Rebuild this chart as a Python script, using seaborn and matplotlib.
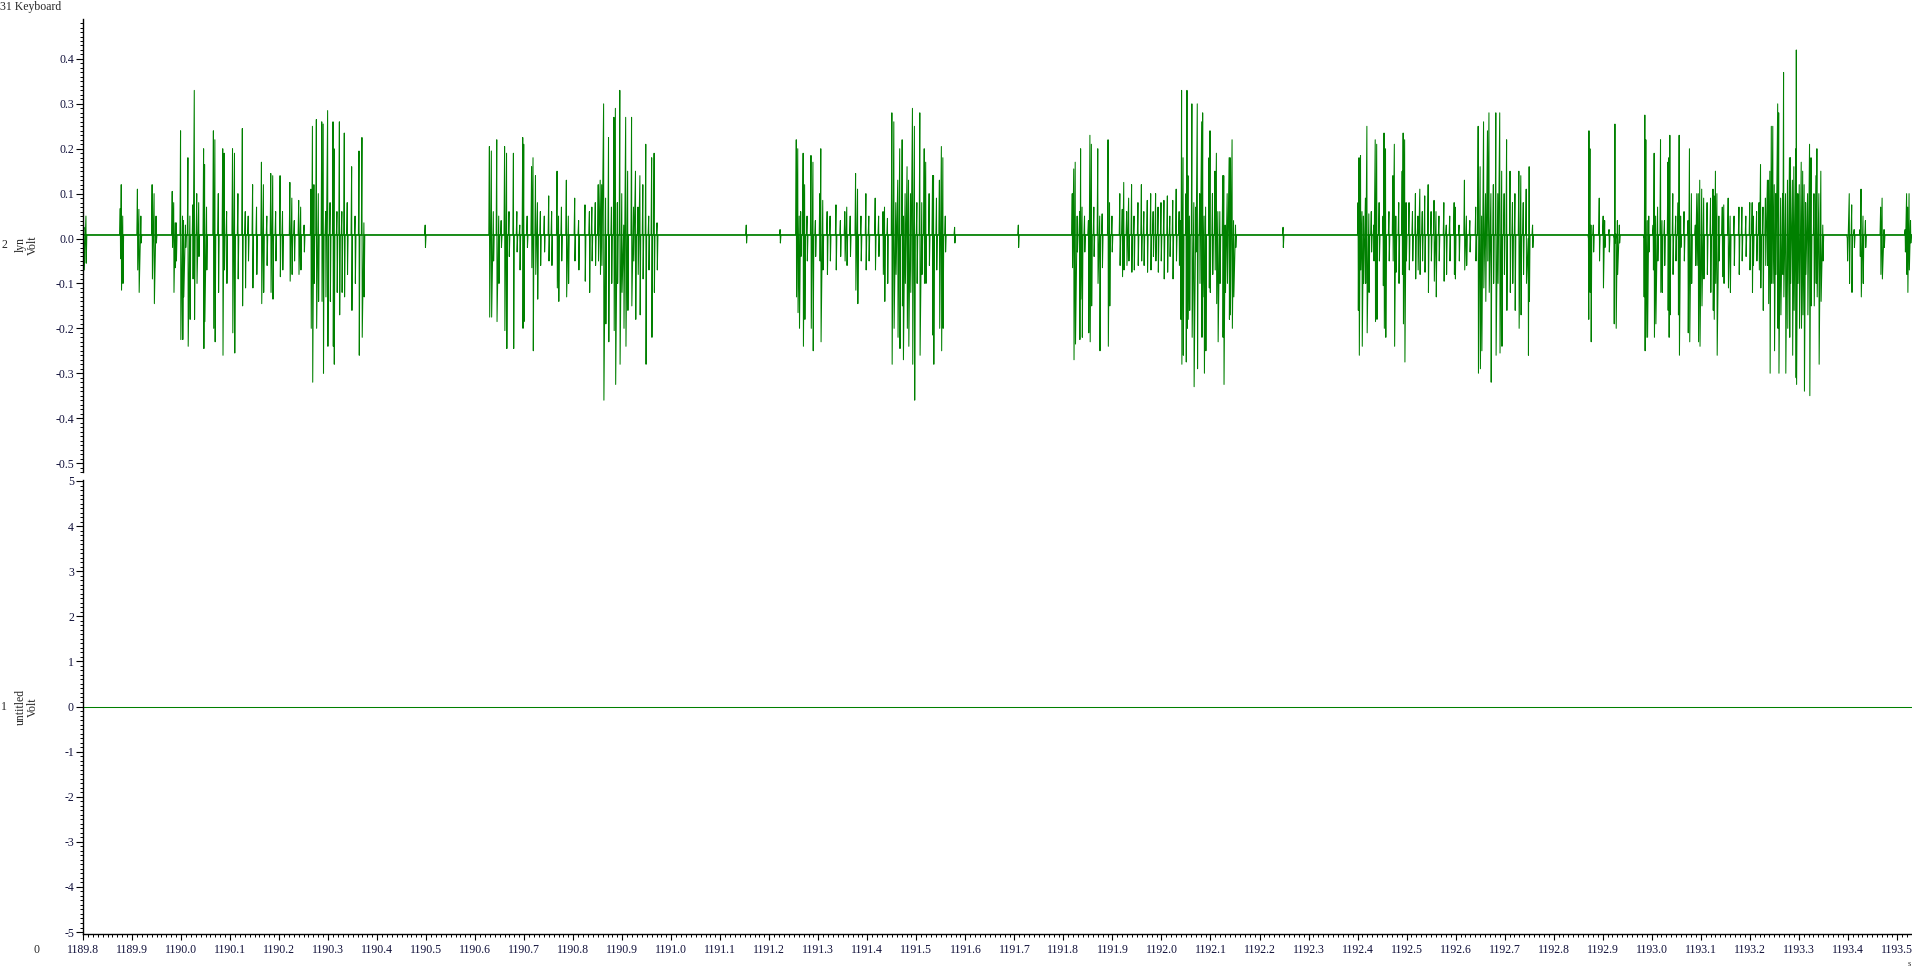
# Spike2-style trace: channel 2 "lyn" (bursts), channel 1 "untitled" (flat)
import numpy as np
import pandas as pd
import seaborn as sns
import matplotlib
matplotlib.use("Agg")
import matplotlib.pyplot as plt
from matplotlib.ticker import MultipleLocator

# --- data ----------------------------------------------------------------
# each spike: (time s, peak V, trough V)
burst_1 = [
    (1189.802, 0.025, -0.07), (1189.806, 0.05, -0.055),
    (1189.876, 0.067, -0.045), (1189.878, 0.12, -0.115), (1189.881, 0.05, -0.1),
    (1189.911, 0.11, -0.07), (1189.914, 0.065, -0.12), (1189.918, 0.05, -0.01),
    (1189.941, 0.12, -0.09), (1189.945, 0.1, -0.145), (1189.949, 0.05, -0.01),
    (1189.982, 0.105, -0.02), (1189.985, 0.08, -0.12), (1189.988, 0.035, -0.065),
    (1189.990, 0.035, -0.05), (1189.999, 0.24, -0.225), (1190.003, 0.05, -0.225),
    (1190.005, 0.04, -0.13), (1190.009, 0.03, -0.02), (1190.014, 0.18, -0.24),
    (1190.018, 0.05, -0.18), (1190.024, 0.075, -0.09), (1190.027, 0.33, -0.18),
    (1190.032, 0.1, -0.1), (1190.036, 0.08, -0.04), (1190.046, 0.2, -0.245),
    (1190.048, 0.165, -0.185), (1190.052, 0.07, -0.07), (1190.066, 0.24, -0.2),
    (1190.069, 0.22, -0.23), (1190.076, 0.1, -0.12), (1190.085, 0.2, -0.26),
    (1190.088, 0.19, -0.07), (1190.093, 0.06, -0.1), (1190.105, 0.2, -0.21),
    (1190.109, 0.19, -0.255), (1190.116, 0.1, -0.09), (1190.125, 0.245, -0.15),
    (1190.131, 0.06, -0.11), (1190.137, 0.05, -0.05), (1190.146, 0.12, -0.11),
    (1190.154, 0.07, -0.08), (1190.164, 0.17, -0.145), (1190.168, 0.12, -0.12),
    (1190.175, 0.05, -0.06), (1190.183, 0.145, -0.12), (1190.187, 0.14, -0.135),
    (1190.193, 0.06, -0.05), (1190.202, 0.14, -0.085), (1190.207, 0.06, -0.07),
    (1190.222, 0.125, -0.095), (1190.226, 0.09, -0.08), (1190.231, 0.04, -0.05),
    (1190.240, 0.085, -0.08), (1190.244, 0.07, -0.07), (1190.251, 0.03, -0.03),
    (1190.265, 0.11, -0.2), (1190.268, 0.25, -0.32), (1190.271, 0.12, -0.1),
    (1190.276, 0.265, -0.2), (1190.280, 0.1, -0.14), (1190.287, 0.26, -0.14),
    (1190.290, 0.255, -0.3), (1190.295, 0.06, -0.13), (1190.299, 0.285, -0.24),
    (1190.304, 0.08, -0.14), (1190.310, 0.26, -0.24), (1190.312, 0.2, -0.28),
    (1190.318, 0.06, -0.12), (1190.323, 0.26, -0.17), (1190.328, 0.06, -0.12),
    (1190.333, 0.235, -0.13), (1190.339, 0.08, -0.08), (1190.348, 0.16, -0.16),
    (1190.355, 0.05, -0.1), (1190.363, 0.195, -0.26), (1190.369, 0.225, -0.22),
    (1190.373, 0.035, -0.13), (1190.498, 0.03, -0.02),
]
burst_2 = [
    (1190.629, 0.205, -0.175), (1190.633, 0.195, -0.175), (1190.637, 0.06, -0.05),
    (1190.644, 0.22, -0.185), (1190.648, 0.05, -0.1), (1190.653, 0.04, -0.02),
    (1190.660, 0.205, -0.205), (1190.664, 0.19, -0.245), (1190.669, 0.06, -0.04),
    (1190.678, 0.19, -0.245), (1190.685, 0.06, -0.03), (1190.691, 0.03, -0.07),
    (1190.697, 0.225, -0.2), (1190.699, 0.21, -0.185), (1190.706, 0.05, -0.02),
    (1190.715, 0.16, -0.065), (1190.718, 0.18, -0.25), (1190.723, 0.14, -0.08),
    (1190.727, 0.08, -0.135), (1190.733, 0.06, -0.06), (1190.741, 0.05, -0.03),
    (1190.750, 0.095, -0.05), (1190.756, 0.06, -0.06), (1190.767, 0.15, -0.11),
    (1190.770, 0.05, -0.14), (1190.776, 0.07, -0.05), (1190.786, 0.13, -0.13),
    (1190.790, 0.05, -0.1), (1190.803, 0.09, -0.05), (1190.811, 0.04, -0.07),
    (1190.824, 0.075, -0.095), (1190.833, 0.06, -0.12), (1190.838, 0.07, -0.05),
    (1190.845, 0.08, -0.06), (1190.851, 0.12, -0.05), (1190.855, 0.13, -0.08),
    (1190.858, 0.12, -0.06), (1190.862, 0.3, -0.36), (1190.866, 0.09, -0.19),
    (1190.872, 0.225, -0.23), (1190.878, 0.07, -0.1), (1190.883, 0.27, -0.205),
    (1190.886, 0.29, -0.325), (1190.890, 0.08, -0.1), (1190.895, 0.33, -0.28),
    (1190.899, 0.1, -0.12), (1190.903, 0.03, -0.2), (1190.907, 0.27, -0.24),
    (1190.911, 0.15, -0.16), (1190.919, 0.27, -0.15), (1190.923, 0.07, -0.05),
    (1190.927, 0.15, -0.18), (1190.932, 0.07, -0.08), (1190.936, 0.14, -0.17),
    (1190.942, 0.12, -0.09), (1190.948, 0.21, -0.28), (1190.954, 0.05, -0.07),
    (1190.960, 0.18, -0.22), (1190.965, 0.19, -0.12), (1190.971, 0.035, -0.07),
    (1191.153, 0.03, -0.01), (1191.222, 0.02, -0.01),
]
burst_3 = [
    (1191.255, 0.22, -0.13), (1191.258, 0.2, -0.165), (1191.261, 0.05, -0.2),
    (1191.264, 0.06, -0.04), (1191.269, 0.19, -0.24), (1191.272, 0.12, -0.18),
    (1191.277, 0.05, -0.05), (1191.285, 0.185, -0.2), (1191.289, 0.17, -0.25),
    (1191.294, 0.04, -0.04), (1191.303, 0.1, -0.05), (1191.305, 0.2, -0.23),
    (1191.309, 0.085, -0.07), (1191.318, 0.06, -0.08), (1191.324, 0.05, -0.05),
    (1191.336, 0.075, -0.07), (1191.345, 0.04, -0.04), (1191.354, 0.06, -0.05),
    (1191.358, 0.07, -0.06), (1191.365, 0.05, -0.04), (1191.376, 0.145, -0.115),
    (1191.380, 0.11, -0.145), (1191.387, 0.05, -0.05), (1191.397, 0.1, -0.07),
    (1191.403, 0.05, -0.05), (1191.416, 0.09, -0.07), (1191.423, 0.05, -0.04),
    (1191.432, 0.06, -0.08), (1191.435, 0.07, -0.14), (1191.441, 0.045, -0.1),
    (1191.450, 0.28, -0.28), (1191.454, 0.26, -0.2), (1191.458, 0.08, -0.08),
    (1191.462, 0.13, -0.22), (1191.466, 0.2, -0.245), (1191.471, 0.22, -0.15),
    (1191.473, 0.05, -0.27), (1191.477, 0.1, -0.1), (1191.481, 0.16, -0.2),
    (1191.484, 0.13, -0.24), (1191.488, 0.1, -0.12), (1191.492, 0.29, -0.28),
    (1191.496, 0.25, -0.36), (1191.501, 0.08, -0.1), (1191.507, 0.28, -0.26),
    (1191.511, 0.08, -0.08), (1191.516, 0.2, -0.1), (1191.519, 0.17, -0.1),
    (1191.526, 0.1, -0.06), (1191.533, 0.14, -0.215), (1191.535, 0.14, -0.28),
    (1191.541, 0.09, -0.07), (1191.547, 0.13, -0.2), (1191.551, 0.205, -0.25),
    (1191.554, 0.18, -0.2), (1191.559, 0.05, -0.03),
    (1191.578, 0.025, -0.01), (1191.708, 0.03, -0.02),
]
burst_4 = [
    (1191.818, 0.1, -0.065), (1191.821, 0.155, -0.27), (1191.824, 0.17, -0.235),
    (1191.828, 0.05, -0.03), (1191.833, 0.06, -0.225), (1191.835, 0.2, -0.135),
    (1191.838, 0.07, -0.22), (1191.843, 0.05, -0.03), (1191.851, 0.04, -0.21),
    (1191.854, 0.23, -0.23), (1191.857, 0.21, -0.15), (1191.862, 0.07, -0.04),
    (1191.870, 0.2, -0.1), (1191.874, 0.05, -0.25), (1191.879, 0.055, -0.065),
    (1191.891, 0.22, -0.24), (1191.894, 0.08, -0.15), (1191.899, 0.05, -0.03),
    (1191.915, 0.1, -0.06), (1191.920, 0.065, -0.085), (1191.923, 0.125, -0.07),
    (1191.929, 0.06, -0.06), (1191.933, 0.09, -0.05), (1191.939, 0.12, -0.075),
    (1191.944, 0.05, -0.07), (1191.952, 0.08, -0.06), (1191.959, 0.12, -0.05),
    (1191.964, 0.06, -0.06), (1191.971, 0.085, -0.075), (1191.978, 0.1, -0.07),
    (1191.983, 0.06, -0.04), (1191.988, 0.1, -0.05), (1191.993, 0.07, -0.075),
    (1191.999, 0.08, -0.05), (1192.005, 0.085, -0.09), (1192.012, 0.095, -0.075),
    (1192.017, 0.05, -0.04), (1192.023, 0.085, -0.09), (1192.030, 0.11, -0.05),
    (1192.036, 0.06, -0.06), (1192.039, 0.04, -0.18), (1192.041, 0.33, -0.28),
    (1192.044, 0.18, -0.26), (1192.050, 0.1, -0.275), (1192.052, 0.33, -0.2),
    (1192.054, 0.14, -0.18), (1192.057, 0.05, -0.16), (1192.062, 0.3, -0.22),
    (1192.066, 0.08, -0.33), (1192.070, 0.07, -0.03), (1192.073, 0.3, -0.29),
    (1192.078, 0.1, -0.1), (1192.082, 0.26, -0.22), (1192.084, 0.28, -0.13),
    (1192.087, 0.05, -0.3), (1192.090, 0.07, -0.25), (1192.097, 0.18, -0.11),
    (1192.099, 0.24, -0.12), (1192.104, 0.1, -0.08), (1192.109, 0.15, -0.07),
    (1192.112, 0.19, -0.145), (1192.115, 0.06, -0.23), (1192.119, 0.06, -0.1),
    (1192.125, 0.14, -0.22), (1192.127, 0.14, -0.325), (1192.130, 0.03, -0.12),
    (1192.134, 0.1, -0.1), (1192.138, 0.18, -0.18), (1192.140, 0.18, -0.17),
    (1192.144, 0.22, -0.2), (1192.147, 0.04, -0.13), (1192.151, 0.03, -0.02),
    (1192.248, 0.025, -0.02),
]
burst_5 = [
    (1192.401, 0.08, -0.16), (1192.403, 0.18, -0.26), (1192.406, 0.185, -0.07),
    (1192.409, 0.06, -0.24), (1192.412, 0.05, -0.1), (1192.416, 0.09, -0.1),
    (1192.419, 0.25, -0.21), (1192.423, 0.055, -0.12), (1192.428, 0.06, -0.03),
    (1192.433, 0.03, -0.05), (1192.436, 0.22, -0.185), (1192.439, 0.21, -0.18),
    (1192.444, 0.08, -0.05), (1192.452, 0.05, -0.105), (1192.454, 0.235, -0.2),
    (1192.457, 0.2, -0.22), (1192.464, 0.06, -0.05), (1192.472, 0.14, -0.05),
    (1192.475, 0.21, -0.24), (1192.478, 0.05, -0.075), (1192.484, 0.08, -0.1),
    (1192.491, 0.15, -0.08), (1192.493, 0.235, -0.19), (1192.496, 0.22, -0.275),
    (1192.499, 0.08, -0.05), (1192.505, 0.08, -0.07), (1192.512, 0.06, -0.05),
    (1192.518, 0.1, -0.09), (1192.523, 0.05, -0.07), (1192.527, 0.11, -0.08),
    (1192.532, 0.06, -0.05), (1192.537, 0.095, -0.075), (1192.544, 0.12, -0.12),
    (1192.550, 0.06, -0.05), (1192.556, 0.085, -0.095), (1192.560, 0.06, -0.13),
    (1192.566, 0.05, -0.05), (1192.576, 0.08, -0.095), (1192.581, 0.03, -0.08),
    (1192.588, 0.05, -0.05), (1192.597, 0.08, -0.08), (1192.599, 0.07, -0.09),
    (1192.607, 0.03, -0.05), (1192.618, 0.13, -0.07), (1192.622, 0.05, -0.06),
    (1192.629, 0.04, -0.03), (1192.641, 0.07, -0.05), (1192.646, 0.25, -0.3),
    (1192.650, 0.16, -0.29), (1192.653, 0.05, -0.25), (1192.657, 0.26, -0.11),
    (1192.661, 0.1, -0.14), (1192.665, 0.24, -0.05), (1192.668, 0.28, -0.12),
    (1192.672, 0.1, -0.32), (1192.677, 0.12, -0.1), (1192.682, 0.28, -0.26),
    (1192.686, 0.1, -0.1), (1192.690, 0.28, -0.255), (1192.694, 0.15, -0.24),
    (1192.699, 0.1, -0.08), (1192.704, 0.22, -0.16), (1192.711, 0.15, -0.12),
    (1192.716, 0.08, -0.1), (1192.721, 0.1, -0.16), (1192.729, 0.15, -0.2),
    (1192.733, 0.14, -0.17), (1192.738, 0.08, -0.08), (1192.744, 0.11, -0.1),
    (1192.748, 0.0, -0.26), (1192.750, 0.16, -0.14), (1192.757, 0.03, -0.02),
]
burst_6 = [
    (1192.871, 0.0, -0.18), (1192.872, 0.24, -0.11), (1192.874, 0.2, -0.12),
    (1192.876, 0.03, -0.23), (1192.881, 0.03, -0.03), (1192.893, 0.09, -0.05),
    (1192.901, 0.05, -0.11), (1192.904, 0.04, -0.02), (1192.913, 0.02, -0.03),
    (1192.923, 0.0, -0.19), (1192.925, 0.255, -0.01), (1192.927, 0.01, -0.2),
    (1192.930, 0.04, -0.08), (1192.934, 0.03, -0.01),
    (1192.984, 0.0, -0.13), (1192.986, 0.275, -0.25), (1192.988, 0.22, -0.22),
    (1192.991, 0.04, -0.22), (1192.994, 0.05, -0.03), (1193.003, 0.03, -0.07),
    (1193.005, 0.19, -0.22), (1193.008, 0.05, -0.19), (1193.012, 0.07, -0.05),
    (1193.018, 0.22, -0.12), (1193.021, 0.04, -0.12), (1193.026, 0.04, -0.06),
    (1193.033, 0.17, -0.16), (1193.035, 0.18, -0.22), (1193.037, 0.23, -0.17),
    (1193.043, 0.1, -0.08), (1193.049, 0.05, -0.05), (1193.054, 0.08, -0.17),
    (1193.056, 0.23, -0.26), (1193.059, 0.05, -0.02), (1193.066, 0.06, -0.05),
    (1193.074, 0.04, -0.21), (1193.077, 0.2, -0.23), (1193.081, 0.1, -0.1),
    (1193.089, 0.03, -0.06), (1193.092, 0.1, -0.06), (1193.095, 0.1, -0.23),
    (1193.098, 0.13, -0.24), (1193.102, 0.11, -0.15), (1193.106, 0.09, -0.09),
    (1193.113, 0.08, -0.08), (1193.120, 0.09, -0.12), (1193.125, 0.11, -0.16),
    (1193.127, 0.095, -0.18), (1193.130, 0.15, -0.1), (1193.133, 0.1, -0.26),
    (1193.137, 0.05, -0.05), (1193.144, 0.07, -0.085), (1193.147, 0.075, -0.1),
    (1193.156, 0.09, -0.11), (1193.160, 0.05, -0.12), (1193.168, 0.05, -0.06),
    (1193.178, 0.07, -0.08), (1193.184, 0.07, -0.05), (1193.192, 0.05, -0.04),
    (1193.200, 0.08, -0.07), (1193.205, 0.08, -0.12), (1193.207, 0.05, -0.06),
    (1193.214, 0.06, -0.05), (1193.219, 0.08, -0.07), (1193.222, 0.165, -0.11),
    (1193.227, 0.07, -0.16), (1193.232, 0.09, -0.06), (1193.236, 0.13, -0.06),
    (1193.238, 0.13, -0.145), (1193.241, 0.15, -0.3), (1193.244, 0.25, -0.1),
    (1193.247, 0.25, -0.1), (1193.250, 0.12, -0.25), (1193.253, 0.1, -0.08),
    (1193.257, 0.3, -0.2), (1193.259, 0.28, -0.3), (1193.263, 0.09, -0.17),
    (1193.267, 0.1, -0.08), (1193.269, 0.37, -0.13), (1193.273, 0.1, -0.3),
    (1193.277, 0.13, -0.2), (1193.281, 0.18, -0.22), (1193.283, 0.18, -0.1),
    (1193.287, 0.13, -0.26), (1193.290, 0.16, -0.16), (1193.294, 0.2, -0.31),
    (1193.295, 0.42, -0.325), (1193.298, 0.1, -0.1), (1193.301, 0.12, -0.2),
    (1193.305, 0.17, -0.2), (1193.308, 0.15, -0.17), (1193.311, 0.12, -0.34),
    (1193.314, 0.08, -0.08), (1193.318, 0.1, -0.17), (1193.322, 0.21, -0.35),
    (1193.325, 0.18, -0.15), (1193.331, 0.1, -0.15), (1193.335, 0.14, -0.1),
    (1193.337, 0.2, -0.13), (1193.341, 0.1, -0.28), (1193.345, 0.15, -0.14),
    (1193.349, 0.03, -0.05),
    (1193.399, 0.0, -0.05), (1193.403, 0.1, -0.1), (1193.408, 0.075, -0.12),
    (1193.413, 0.02, -0.02), (1193.425, 0.02, -0.04), (1193.427, 0.11, -0.13),
    (1193.431, 0.05, -0.1), (1193.436, 0.04, -0.02), (1193.467, 0.07, -0.08),
    (1193.470, 0.09, -0.09), (1193.474, 0.02, -0.02), (1193.517, 0.02, -0.03),
    (1193.520, 0.1, -0.08), (1193.522, 0.07, -0.12), (1193.525, 0.1, -0.07),
    (1193.528, 0.04, -0.01),
]
lyn_baseline = 0.008          # resting level of channel 2
untitled_level = [0.0, 0.0]   # channel 1 stays flat

x_range = [1189.8, 1193.531]
x_ticks = [round(1189.8 + 0.1 * i, 1) for i in range(38)]
top_ticks = [0.4, 0.3, 0.2, 0.1, 0.0, -0.1, -0.2, -0.3, -0.4, -0.5]
top_labels = ["0.4", "0.3", "0.2", "0.1", "0.0", "-0.1", "-0.2", "-0.3", "-0.4", "-0.5"]
bot_ticks = [5, 4, 3, 2, 1, 0, -1, -2, -3, -4, -5]
bot_labels = ["5", "4", "3", "2", "1", "0", "-1", "-2", "-3", "-4", "-5"]

GREEN = "#008000"
INK = "#10103a"
W, H = 1912, 969
FS = 8.5


def build_trace(spikes, base):
    """spike list -> one continuous polyline (up then down at each spike)"""
    ts, vs = [x_range[0]], [base]
    prev = x_range[0]
    for t, hi, lo in sorted(spikes):
        if t - prev > 0.004:
            ts += [prev + 0.0012, t - 0.0012]
            vs += [base, base]
        ts += [t, t + 0.0006]
        vs += [hi, lo]
        prev = t + 0.0006
    ts += [prev + 0.0012, x_range[1]]
    vs += [base, base]
    return pd.DataFrame({"t": ts, "v": vs})


sns.set_style("ticks")
plt.rcParams["font.family"] = ["Liberation Serif", "DejaVu Serif"]
plt.rcParams["axes.unicode_minus"] = False

fig = plt.figure(figsize=(W / 100, H / 100), dpi=100)
ax1 = fig.add_axes([83 / W, 1 - 472 / H, 1 - 83 / W, 453 / H])
ax2 = fig.add_axes([83 / W, 1 - 934 / H, 1 - 83 / W, 454 / H])

trace = build_trace(burst_1 + burst_2 + burst_3 + burst_4 + burst_5 + burst_6,
                    lyn_baseline)
# the resting noise band shows as a slightly thicker line
sns.lineplot(x=x_range, y=[lyn_baseline, lyn_baseline], color=GREEN,
             lw=1.2, alpha=0.9, ax=ax1)
sns.lineplot(data=trace, x="t", y="v", sort=False, estimator=None,
             color=GREEN, lw=0.75, ax=ax1)
sns.lineplot(x=x_range, y=untitled_level, color=GREEN, lw=0.75, ax=ax2)

for ax in (ax1, ax2):
    ax.set_xlim(x_range)
    ax.set_xlabel("")
    ax.set_ylabel("")
    for s in ("top", "right"):
        ax.spines[s].set_visible(False)
    ax.spines["left"].set_color("black")
    ax.spines["left"].set_linewidth(1.0)
    ax.tick_params(axis="y", which="major", length=5, width=0.8, pad=1.5,
                   labelsize=FS, labelcolor=INK, color="black")
    ax.tick_params(axis="y", which="minor", length=2.2, width=0.7, color="black")

ax1.set_ylim(-0.52, 0.489)
ax1.set_yticks(top_ticks, top_labels)
ax1.yaxis.set_minor_locator(MultipleLocator(0.01))
ax1.spines["bottom"].set_visible(False)
ax1.tick_params(axis="x", which="both", bottom=False, labelbottom=False)

ax2.set_ylim(-5.044, 5.022)
ax2.set_yticks(bot_ticks, bot_labels)
ax2.yaxis.set_minor_locator(MultipleLocator(0.1))
ax2.spines["bottom"].set_color("black")
ax2.spines["bottom"].set_linewidth(1.0)
ax2.set_xticks(x_ticks, [f"{v:.1f}" for v in x_ticks])
ax2.xaxis.set_minor_locator(MultipleLocator(0.01))
ax2.tick_params(axis="x", which="major", length=4, width=0.8, pad=3,
                labelsize=FS, labelcolor=INK, color="black")
ax2.tick_params(axis="x", which="minor", length=2.2, width=0.7, color="black")

# channel captions
fig.text(0 / W, 1 - 7 / H, "31 Keyboard", fontsize=FS, va="center", ha="left")
fig.text(4 / W, 1 - 245 / H, "2", fontsize=FS, va="center", ha="center")
fig.text(27 / W, 1 - 245 / H, "lyn\nVolt", fontsize=FS, rotation=90,
         va="center", ha="center", ma="center", linespacing=1.0)
fig.text(4 / W, 1 - 707 / H, "1", fontsize=FS, va="center", ha="center")
fig.text(27 / W, 1 - 707 / H, "untitled\nVolt", fontsize=FS, rotation=90,
         va="center", ha="center", ma="center", linespacing=1.0)
fig.text(37 / W, 1 - 950 / H, "0", fontsize=FS, va="center", ha="center")
fig.text(1909 / W, 1 - 964 / H, "s", fontsize=6, va="center", ha="center")

fig.savefig("out.png", dpi=100, facecolor="white")
